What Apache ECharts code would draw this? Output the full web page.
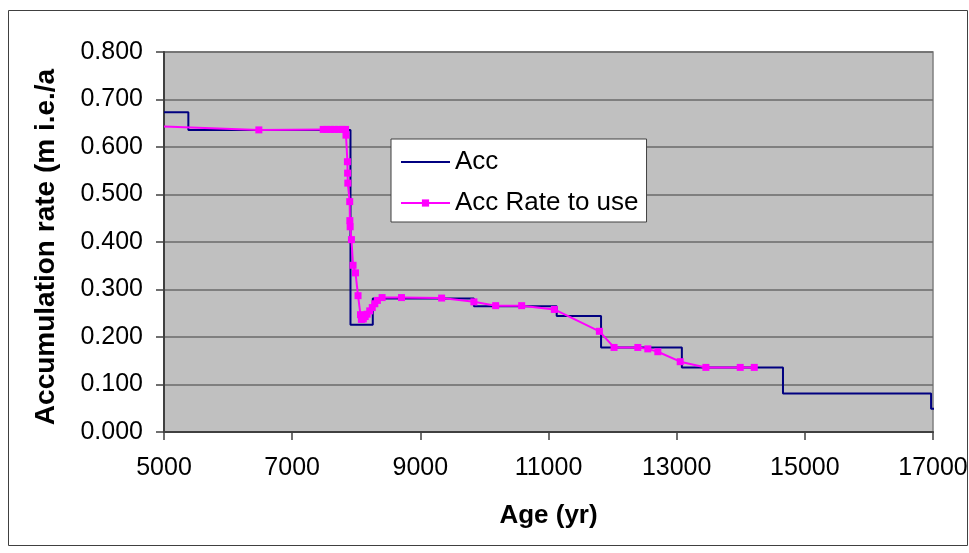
<!DOCTYPE html>
<html>
<head>
<meta charset="utf-8">
<script src="https://cdn.jsdelivr.net/npm/echarts@6/dist/echarts.min.js"></script>
<style>
html,body{margin:0;padding:0;background:#fff;}
#chart{width:969px;height:553px;}
</style>
</head>
<body>
<div id="chart"></div>
<script>
// step series "Acc": age where each step starts, and its rate
var accAge  = [5000, 5380, 7910, 8258, 9836, 11128, 11820, 13081, 14659, 16970, 17100];
var accRate = [0.673, 0.636, 0.226, 0.281, 0.265, 0.244, 0.178, 0.136, 0.081, 0.049, 0.049];

// "Acc Rate to use" points
var useAge = [5000, 6480, 7484, 7540, 7600, 7660, 7720, 7780, 7833, 7840,
	7862, 7865, 7868, 7898, 7900, 7905, 7925, 7950, 7988, 8028,
	8066, 8080, 8110, 8140, 8170, 8210, 8250, 8290, 8330, 8403,
	8706, 9332, 9836, 10175, 10581, 11091, 11794, 12023, 12394, 12550,
	12706, 13055, 13456, 13992, 14211];
var useRate = [0.643, 0.636, 0.637, 0.637, 0.637, 0.637, 0.637, 0.637, 0.637, 0.625,
	0.569, 0.545, 0.524, 0.485, 0.445, 0.432, 0.405, 0.351, 0.335, 0.287,
	0.247, 0.237, 0.238, 0.243, 0.248, 0.255, 0.262, 0.270, 0.277, 0.283,
	0.283, 0.282, 0.274, 0.266, 0.266, 0.258, 0.212, 0.178, 0.178, 0.175,
	0.169, 0.148, 0.136, 0.136, 0.136];

var xMin = 5000, xMax = 17000, xStep = 2000;
var yMin = 0, yMax = 0.8, yStep = 0.1;

function pairs(xs, ys, hideFirst){
	var out = [];
	for(var i = 0; i < xs.length; i++){
		if(hideFirst && i == 0){
			out.push({value: [xs[i], ys[i]], symbol: 'none'});
		}else{
			out.push([xs[i], ys[i]]);
		}
	}
	return out;
}

var font = 'Liberation Sans, Arial, sans-serif';
var myChart = echarts.init(document.getElementById('chart'), null, {renderer:'canvas'});
myChart.setOption({
	animation: false,
	backgroundColor: '#fff',
	textStyle: {fontFamily: font},
	graphic: [{
		type: 'rect',
		shape: {x: 8.5, y: 10.5, width: 959, height: 535},
		style: {fill: 'none', stroke: '#404040', lineWidth: 1},
		silent: true
	}],
	grid: {
		left: 164, right: 36, top: 52, bottom: 121,
		show: true,
		backgroundColor: '#C0C0C0',
		borderColor: '#808080',
		borderWidth: 1.5,
		outerBoundsMode: 'none'
	},
	legend: {
		orient: 'vertical',
		left: 391, top: 139,
		padding: [10, 8, 6, 9],
		itemGap: 15,
		itemWidth: 49,
		itemHeight: 9,
		backgroundColor: '#fff',
		borderColor: '#404040',
		borderWidth: 1,
		textStyle: {fontFamily: font, fontSize: 26, color: '#000'},
		data: [{name: 'Acc', itemStyle: {opacity: 0}}, 'Acc Rate to use']
	},
	xAxis: {
		type: 'value',
		min: xMin, max: xMax, interval: xStep,
		name: 'Age (yr)',
		nameLocation: 'middle',
		nameGap: 71,
		nameTextStyle: {fontFamily: font, fontSize: 26, fontWeight: 'bold', color: '#000'},
		axisLine: {show: true, onZero: false, lineStyle: {color: '#404040', width: 2}},
		axisTick: {show: true, length: 8, lineStyle: {color: '#404040', width: 1.5}},
		axisLabel: {
			fontFamily: font, fontSize: 25, color: '#000', margin: 24,
			formatter: function(v){ return String(v); }
		},
		splitLine: {show: false}
	},
	yAxis: {
		type: 'value',
		min: yMin, max: yMax, interval: yStep,
		name: 'Accumulation rate (m i.e./a',
		nameLocation: 'middle',
		nameGap: 104,
		nameTextStyle: {
			fontFamily: font, fontSize: 28, fontWeight: 'bold', color: '#000',
			padding: [0, 10, 0, 0]
		},
		axisLine: {show: true, lineStyle: {color: '#404040', width: 2}},
		axisTick: {show: true, length: 8, lineStyle: {color: '#404040', width: 1.5}},
		axisLabel: {
			fontFamily: font, fontSize: 25, color: '#000', margin: 21,
			formatter: function(v){ return v.toFixed(3); }
		},
		splitLine: {show: true, lineStyle: {color: '#6a6a6a', width: 1.5}}
	},
	series: [{
		name: 'Acc',
		type: 'line',
		step: 'end',
		clip: false,
		symbol: 'none',
		color: '#000080',
		lineStyle: {color: '#000080', width: 2},
		data: pairs(accAge, accRate, false),
		z: 2
	},{
		name: 'Acc Rate to use',
		type: 'line',
		symbol: 'rect',
		symbolSize: 7,
		color: '#FF00FF',
		lineStyle: {color: '#FF00FF', width: 2},
		itemStyle: {color: '#FF00FF'},
		data: pairs(useAge, useRate, true),
		z: 3
	}]
});
</script>
</body>
</html>
